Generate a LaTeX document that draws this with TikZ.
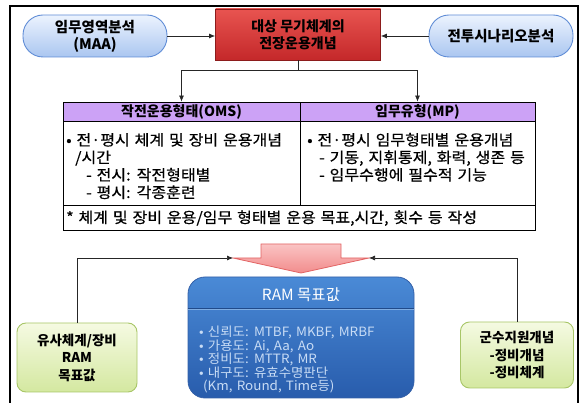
\documentclass[tikz,border=0pt]{standalone}
\usepackage{fontspec}
\setmainfont{Noto Sans CJK KR}
\newfontfamily\bodyf[FakeStretch=1.07, WordSpace=1.35, FakeBold=0.6]{Noto Sans CJK KR}
\newfontfamily\ramf[FakeStretch=1.05, WordSpace=1.4]{Noto Sans CJK KR}
\usetikzlibrary{arrows.meta}
\definecolor{ovaltop}{RGB}{236,243,254}
\definecolor{ovalbot}{RGB}{170,198,240}
\definecolor{ovalline}{RGB}{95,140,214}
\definecolor{redtop}{RGB}{232,84,80}
\definecolor{redbot}{RGB}{196,40,42}
\definecolor{redline}{RGB}{140,28,28}
\definecolor{lav}{RGB}{204,162,246}
\definecolor{greentop}{RGB}{245,250,226}
\definecolor{greenbot}{RGB}{212,232,160}
\definecolor{greenline}{RGB}{168,198,104}
\definecolor{bluetop}{RGB}{74,138,214}
\definecolor{bluebot}{RGB}{40,92,172}
\definecolor{blueline}{RGB}{52,96,168}
\definecolor{bluetext}{RGB}{200,220,245}
\definecolor{pinktop}{RGB}{250,196,196}
\definecolor{pinkbot}{RGB}{242,140,140}
\definecolor{pinkline}{RGB}{226,100,100}
\begin{document}
\begin{tikzpicture}[x=1pt,y=-1pt,
  oval/.style={draw=ovalline, line width=0.9pt, rounded corners=20pt, top color=ovaltop, bottom color=ovalbot,
    minimum width=144pt, minimum height=42pt, inner sep=0pt, align=center,
    font=\fontsize{14.5}{17}\selectfont\bfseries},
  redbox/.style={draw=redline, line width=0.8pt, top color=redtop, bottom color=redbot,
    minimum width=165pt, minimum height=51pt, inner sep=0pt, align=center,
    font=\fontsize{14}{17}\selectfont\bfseries},
  cell/.style={draw=black, line width=0.8pt, inner sep=0pt},
  hdtext/.style={font=\fontsize{14}{17}\selectfont\bfseries, inner sep=0pt},
  bodytext/.style={font=\bodyf\fontsize{15}{17}\selectfont, inner sep=0pt, anchor=base west},
  greenbox/.style={draw=greenline, line width=0.9pt, rounded corners=9pt, top color=greentop, bottom color=greenbot,
    inner sep=0pt, align=center, font=\fontsize{13.5}{17.5}\selectfont\bfseries},
  ramtext/.style={font=\ramf\fontsize{12.8}{14}\selectfont, text=bluetext, inner sep=0pt, anchor=base west},
  conn/.style={draw=black!85, line width=0.7pt},
  tip/.style={-{Latex[length=6pt,width=5pt]}}
]
\useasboundingbox (0,0) rectangle (584,403);
% outer frame
\draw[line width=1.6pt] (10,410) -- (10,6) -- (578,6) -- (578,410);

% top row
\node[oval] (maa) at (95,36) {임무영역분석\\(MAA)};
\node[redbox] (cop) at (298,34.5) {대상 무기체계의\\전장운용개념};
\node[oval] (scn) at (501,36) {전투시나리오분석};
\draw[conn,tip] (maa.east) -- (cop.west |- maa.east);
\draw[conn,tip] (scn.west) -- (cop.east |- scn.west);

% table
\node[cell, fill=lav, minimum width=237pt, minimum height=19pt] (h1) at (181.5,111.5) {};
\node[cell, fill=lav, minimum width=235pt, minimum height=19pt] (h2) at (417.5,111.5) {};
\node[cell, minimum width=237pt, minimum height=84pt] (b1) at (181.5,163) {};
\node[cell, minimum width=235pt, minimum height=84pt] (b2) at (417.5,163) {};
\node[cell, minimum width=472pt, minimum height=25pt] (ft) at (299,217.5) {};
\node[hdtext] (h1t) at (h1.center) {작전운용형태(OMS)};
\node[hdtext] (h2t) at (h2.center) {임무유형(MP)};

\node[bodytext] (l1) at (66,145.5) {• 전·평시 체계 및 장비 운용개념};
\node[bodytext] (l2) at (75,163) {/시간};
\node[bodytext] (l3) at (86,180.5) {- 전시: 작전형태별};
\node[bodytext] (l4) at (86,198) {- 평시: 각종훈련};
\node[bodytext] (r1) at (307,145.5) {• 전·평시 임무형태별 운용개념};
\node[bodytext] (r2) at (319,163) {- 기동, 지휘통제, 화력, 생존 등};
\node[bodytext] (r3) at (319,180.5) {- 임무수행에 필수적 기능};
\node[bodytext] (ftt) at (66,223) {* 체계 및 장비 운용/임무 형태별 운용 목표,시간, 횟수 등 작성};

% split connector
\coordinate (jn) at (298,70);
\draw[conn] (cop.south) -- (jn);
\draw[conn,tip] (jn) -| (h1.north);
\draw[conn,tip] (jn) -| (h2.north);

% pink arrow
\coordinate (wl) at (233,258);
\coordinate (wr) at (369,258);
\draw[pinkline, line width=0.8pt, top color=pinktop, bottom color=pinkbot]
  (261,244) -- (341,244) -- (341,258) -- (wr) -- (301,273) -- (wl) -- (261,258) -- cycle;

% RAM box
\node[draw=blueline, line width=0.8pt, rounded corners=17pt, top color=bluetop, bottom color=bluebot,
  minimum width=226pt, minimum height=121pt, inner sep=0pt] (ram) at (301,337.5) {};
\draw[draw=bluebot!80!black, line width=0.9pt] (ram.west |- 0,308) -- (ram.east |- 0,308);
\draw[draw=bluetop!70!white, line width=0.5pt] (ram.west |- 0,309.2) -- (ram.east |- 0,309.2);
\node[font=\fontsize{15.5}{17}\selectfont, text=white, inner sep=0pt] (ramt) at (301,294.5) {RAM 목표값};
\node[ramtext] (m1) at (199,337) {• 신뢰도: MTBF, MKBF, MRBF};
\node[ramtext] (m2) at (199,350.5) {• 가용도: Ai, Aa, Ao};
\node[ramtext] (m3) at (199,364) {• 정비도: MTTR, MR};
\node[ramtext] (m4) at (199,377.5) {• 내구도: 유효수명판단};
\node[ramtext] (m5) at (203,391) {(Km, Round, Time등)};

% green boxes
\node[greenbox, minimum width=120pt, minimum height=69pt] (gl) at (77,357.5) {유사체계/장비\\RAM\\목표값};
\node[greenbox, minimum width=113pt, minimum height=66pt] (gr) at (517,355) {군수지원개념\\-정비개념\\-정비체계};
\draw[conn,tip] (gl.north) |- (wl);
\draw[conn,tip] (gr.north) |- (wr);
\end{tikzpicture}
\end{document}
